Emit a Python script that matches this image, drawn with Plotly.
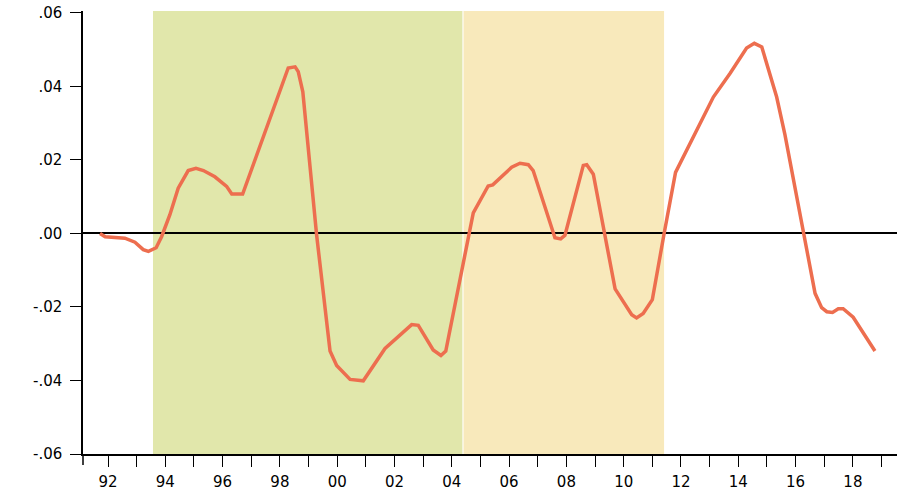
import plotly.graph_objects as go

# values (year, value)
years = [1991.72, 1991.90, 1992.59, 1992.94, 1993.23, 1993.41, 1993.68, 1993.87,
         1994.16, 1994.45, 1994.80, 1995.07, 1995.33, 1995.73, 1996.14, 1996.32,
         1996.70, 1998.24, 1998.29, 1998.53, 1998.64, 1998.80, 1999.28, 1999.75,
         1999.98, 2000.45, 2000.91, 2001.67, 2002.60, 2002.83, 2003.35, 2003.62,
         2003.79, 2004.75, 2005.27, 2005.43, 2006.09, 2006.38, 2006.67, 2006.84,
         2007.60, 2007.80, 2007.95, 2008.59, 2008.71, 2008.94, 2009.70, 2010.28,
         2010.45, 2010.68, 2011.00, 2011.41, 2011.81, 2013.13, 2013.71, 2014.29,
         2014.56, 2014.82, 2015.34, 2015.63, 2016.27, 2016.68, 2016.91, 2017.09,
         2017.29, 2017.49, 2017.66, 2018.01, 2018.77]
values = [0.0000, -0.0009, -0.0013, -0.0024, -0.0044, -0.0049, -0.0039, -0.0009,
          0.0051, 0.0123, 0.0171, 0.0177, 0.0171, 0.0154, 0.0128, 0.0107,
          0.0107, 0.0445, 0.0450, 0.0453, 0.0440, 0.0385, -0.0003, -0.0320,
          -0.0359, -0.0397, -0.0401, -0.0313, -0.0248, -0.0250, -0.0317, -0.0332,
          -0.0320, 0.0056, 0.0129, 0.0132, 0.0180, 0.0191, 0.0187, 0.0171,
          -0.0012, -0.0015, -0.0005, 0.0185, 0.0187, 0.0161, -0.0151, -0.0221,
          -0.0230, -0.0218, -0.0180, -0.0001, 0.0166, 0.0371, 0.0435, 0.0504,
          0.0517, 0.0507, 0.0371, 0.0268, -0.0001, -0.0163, -0.0202, -0.0213,
          -0.0215, -0.0205, -0.0205, -0.0228, -0.0320]

# shaded periods
green_period = [1993.57, 2004.37]
orange_period = [2004.41, 2011.41]

x_tickvals = list(range(1992, 2019, 2))
x_ticktext = ['92', '94', '96', '98', '00', '02', '04', '06', '08', '10', '12', '14', '16', '18']
y_tickvals = [0.06, 0.04, 0.02, 0.0, -0.02, -0.04, -0.06]
y_ticktext = ['.06', '.04', '.02', '.00', '-.02', '-.04', '-.06']

trace = go.Scatter(x=years, y=values, mode='lines',
                   line=dict(color='#ED6E4F', width=3.5), showlegend=False)

fig = go.Figure(data=[trace])

fig.add_vrect(x0=green_period[0], x1=green_period[1], fillcolor='#E1E7AB',
              opacity=1, line_width=0, layer='below')
fig.add_vrect(x0=orange_period[0], x1=orange_period[1], fillcolor='#F8E9BB',
              opacity=1, line_width=0, layer='below')
# y axis line continues down past the x axis like the tick marks
fig.add_shape(type='line', xref='paper', yref='paper', x0=0, x1=0, y0=0, y1=-0.025,
              line=dict(color='black', width=1.5))

font = dict(family='DejaVu Sans', size=15, color='black')

fig.update_layout(
    width=897, height=493,
    margin=dict(l=83, r=0, t=11, b=39),
    plot_bgcolor='white', paper_bgcolor='white',
    xaxis=dict(range=[1991.127, 2019.54], showgrid=False, zeroline=False,
               showline=True, linecolor='black', linewidth=1.5, automargin=False,
               tickvals=x_tickvals, ticktext=x_ticktext,
               ticks='outside', ticklen=11, tickwidth=1.2, tickcolor='black',
               minor=dict(dtick=1, tick0=1992, ticks='outside', ticklen=11,
                          tickwidth=1.2, tickcolor='black', showgrid=False),
               tickfont=font, ticklabelstandoff=2, ticklabeloverflow='allow'),
    yaxis=dict(range=[-0.06, 0.0605], showgrid=False, automargin=False,
               zeroline=True, zerolinecolor='black', zerolinewidth=1.5,
               showline=True, linecolor='black', linewidth=1.5,
               tickvals=y_tickvals, ticktext=y_ticktext,
               ticks='outside', ticklen=11, tickwidth=1.2, tickcolor='black',
               tickfont=font, ticklabelstandoff=5, ticklabeloverflow='allow'),
)

# drop the default 8px page margin so the figure fills the window
fig.write_html('out.html', config={'displayModeBar': False},
               post_script="document.body.style.margin = '0';")
